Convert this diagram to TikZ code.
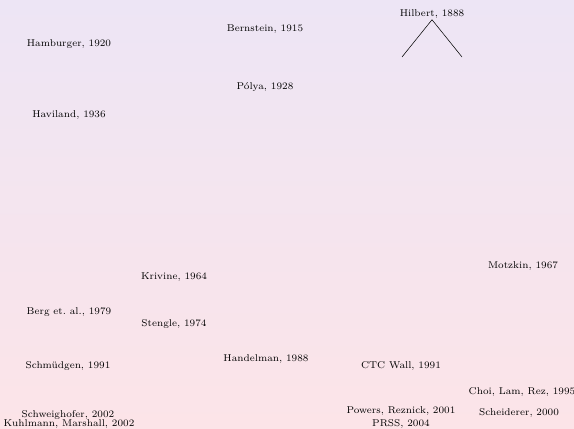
\documentclass[tikz,border=0pt]{standalone}
\definecolor{lavtop}{RGB}{237,229,245}
\definecolor{pinkbot}{RGB}{252,228,232}
\tikzset{who/.style={font=\fontsize{7.4}{9}\selectfont,inner sep=0.8pt}}
\begin{document}
\begin{tikzpicture}[x=0.75pt,y=-0.75pt]
\shade[top color=lavtop,bottom color=pinkbot] (0,0) rectangle (574,428);
\useasboundingbox (0,0) rectangle (574,428);
\node[who] (hilbert) at (432,14) {Hilbert, 1888};
\coordinate (hl) at (402,57);
\coordinate (hr) at (462,57);
\draw (hilbert.south) -- (hl);
\draw (hilbert.south) -- (hr);
\node[who] (bernstein) at (265,29) {Bernstein, 1915};
\node[who] (hamburger) at (69,44) {Hamburger, 1920};
\node[who] (polya) at (265,87) {P\'olya, 1928};
\node[who] (haviland) at (69,115) {Haviland, 1936};
\node[who] (krivine) at (174,277) {Krivine, 1964};
\node[who] (motzkin) at (523,266) {Motzkin, 1967};
\node[who] (berg) at (69,312) {Berg et.\ al., 1979};
\node[who] (stengle) at (174,324) {Stengle, 1974};
\node[who] (handelman) at (266,359) {Handelman, 1988};
\node[who] (schmudgen) at (68,366) {Schm\"udgen, 1991};
\node[who] (wall) at (401,366) {CTC Wall, 1991};
\node[who] (choi) at (522,392) {Choi, Lam, Rez, 1995};
\node[who] (scheiderer) at (519,413) {Scheiderer, 2000};
\node[who] (powers) at (401,411) {Powers, Reznick, 2001};
\node[who] (prss) at (401,424) {PRSS, 2004};
\node[who] (schweig) at (68,415) {Schweighofer, 2002};
\node[who] (kuhlmann) at (69,424) {Kuhlmann, Marshall, 2002};
\end{tikzpicture}
\end{document}
